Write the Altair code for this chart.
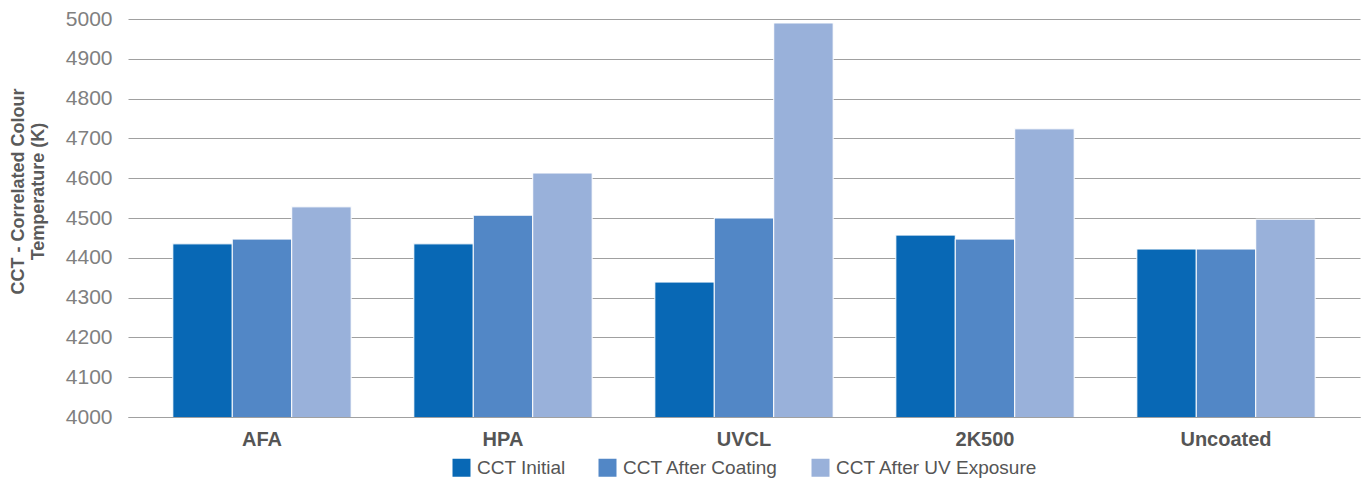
import altair as alt
import pandas as pd

categories = ["AFA", "HPA", "UVCL", "2K500", "Uncoated"]
series = ["CCT Initial", "CCT After Coating", "CCT After UV Exposure"]
cct_initial = [4435, 4435, 4339, 4457, 4422]
cct_after_coating = [4447, 4507, 4500, 4447, 4422]
cct_after_uv = [4528, 4613, 4990, 4724, 4497]
colors = ["#0868B5", "#5287C6", "#99B1DA"]

rows = []
for i, c in enumerate(categories):
    for s, vals in zip(series, [cct_initial, cct_after_coating, cct_after_uv]):
        rows.append({"Coating": c, "Series": s, "CCT": vals[i]})
df = pd.DataFrame(rows)

font = "Liberation Sans"

chart = alt.Chart(df).mark_bar(stroke="white", strokeWidth=1, clip=True).encode(
    x=alt.X("Coating:N", sort=categories,
            scale=alt.Scale(paddingInner=0.26, paddingOuter=0.186),
            axis=alt.Axis(title=None, labelAngle=0, labelFont=font, labelFontSize=20,
                          labelFontWeight="bold", labelColor="#555555", labelPadding=12,
                          ticks=False, domain=True, domainColor="#a0a0a0", grid=False)),
    xOffset=alt.XOffset("Series:N", sort=series, scale=alt.Scale(paddingInner=0, paddingOuter=0)),
    y=alt.Y("CCT:Q", scale=alt.Scale(domain=[4000, 5000], nice=False, zero=False),
            axis=alt.Axis(title=["CCT - Correlated Colour", "Temperature (K)"],
                          values=list(range(4000, 5001, 100)), format="d",
                          labelFont=font, labelFontSize=21, labelColor="#808080",
                          labelPadding=16, ticks=False, domain=False,
                          grid=True, gridColor="#a0a0a0", gridWidth=1,
                          titleFont=font, titleFontSize=18, titleFontWeight="bold",
                          titleColor="#5a5a5a", titlePadding=18, titleY=172)),
    color=alt.Color("Series:N", sort=series,
                    scale=alt.Scale(domain=series, range=colors),
                    legend=alt.Legend(title=None, orient="none", direction="horizontal",
                                      legendX=324, legendY=439, symbolType="square",
                                      symbolSize=324, symbolStrokeWidth=0,
                                      labelFont=font, labelFontSize=19, labelColor="#555555",
                                      labelOffset=6, columnPadding=32, labelLimit=400)),
).properties(
    width=1232, height=398,
    autosize=alt.AutoSizeParams(type="none"),
    padding={"left": 120, "top": 11, "right": 1, "bottom": 64},
).configure_view(stroke=None)

chart.save("out.html", embed_options={"renderer": "svg", "actions": False})
